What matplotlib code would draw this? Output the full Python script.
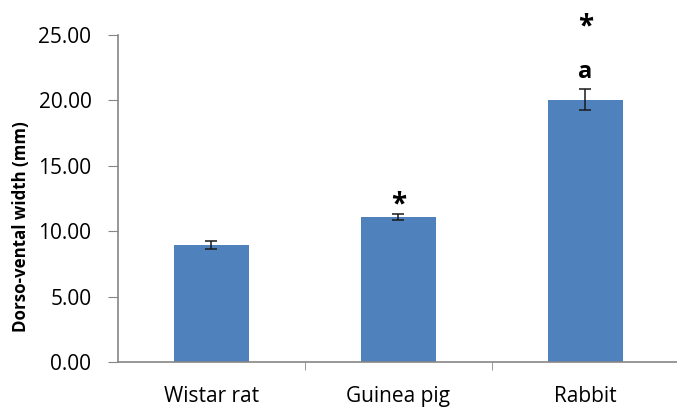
import numpy as np
from matplotlib import pyplot as plt
from matplotlib.ticker import FormatStrFormatter

categories = ['Wistar rat', 'Guinea pig', 'Rabbit']
widths = [8.95, 11.1, 20.05]
errors = [0.32, 0.23, 0.78]
marks = [[], ['*'], ['a', '*']]

BAR_COLOR = '#4F81BD'
AXIS_COLOR = '#868686'

plt.rcParams['font.family'] = ['Open Sans', 'DejaVu Sans']

fig = plt.figure(figsize=(6.77, 4.09), dpi=100)
ax = fig.add_axes([0.174, 0.115, 0.829, 0.8])

x = np.arange(len(categories))
ax.bar(x, widths, width=0.4, color=BAR_COLOR, zorder=2)
ax.errorbar(x, widths, yerr=errors, fmt='none', ecolor='#1a1a1a', elinewidth=1.1,
            capsize=4, capthick=1.1, zorder=3)

# significance marks stacked above the error bars
for xi, (val, err, labels) in enumerate(zip(widths, errors, marks)):
    for k, lab in enumerate(labels):
        off = 1.3 + 3.5 * k if len(labels) > 1 else 0.7
        ax.text(xi, val + err + off, lab, ha='center', va='center',
                fontsize=20 if lab == '*' else 17, fontweight='bold', color='black')

ax.set_xlim(-0.5, 2.5)
ax.set_ylim(0, 25)
ax.set_yticks(np.arange(0, 25.1, 5))
ax.yaxis.set_major_formatter(FormatStrFormatter('%.2f'))
ax.set_xticks(x)
ax.set_xticklabels(categories)
ax.set_xticks([0.5, 1.5], minor=True)
ax.tick_params(axis='x', which='major', length=0, pad=17, labelsize=15)
ax.tick_params(axis='x', which='minor', length=6, color=AXIS_COLOR, direction='out')
ax.tick_params(axis='y', length=7, color=AXIS_COLOR, labelsize=15, pad=12)
ax.set_ylabel('Dorso-vental width (mm)', fontsize=12.2, fontweight='bold', va='center')
ax.yaxis.set_label_coords(-0.173, 0.415)

for side in ('top', 'right'):
    ax.spines[side].set_visible(False)
for side in ('left', 'bottom'):
    ax.spines[side].set_color(AXIS_COLOR)
    ax.spines[side].set_linewidth(1.2)

fig.savefig('out.png', dpi=100)
